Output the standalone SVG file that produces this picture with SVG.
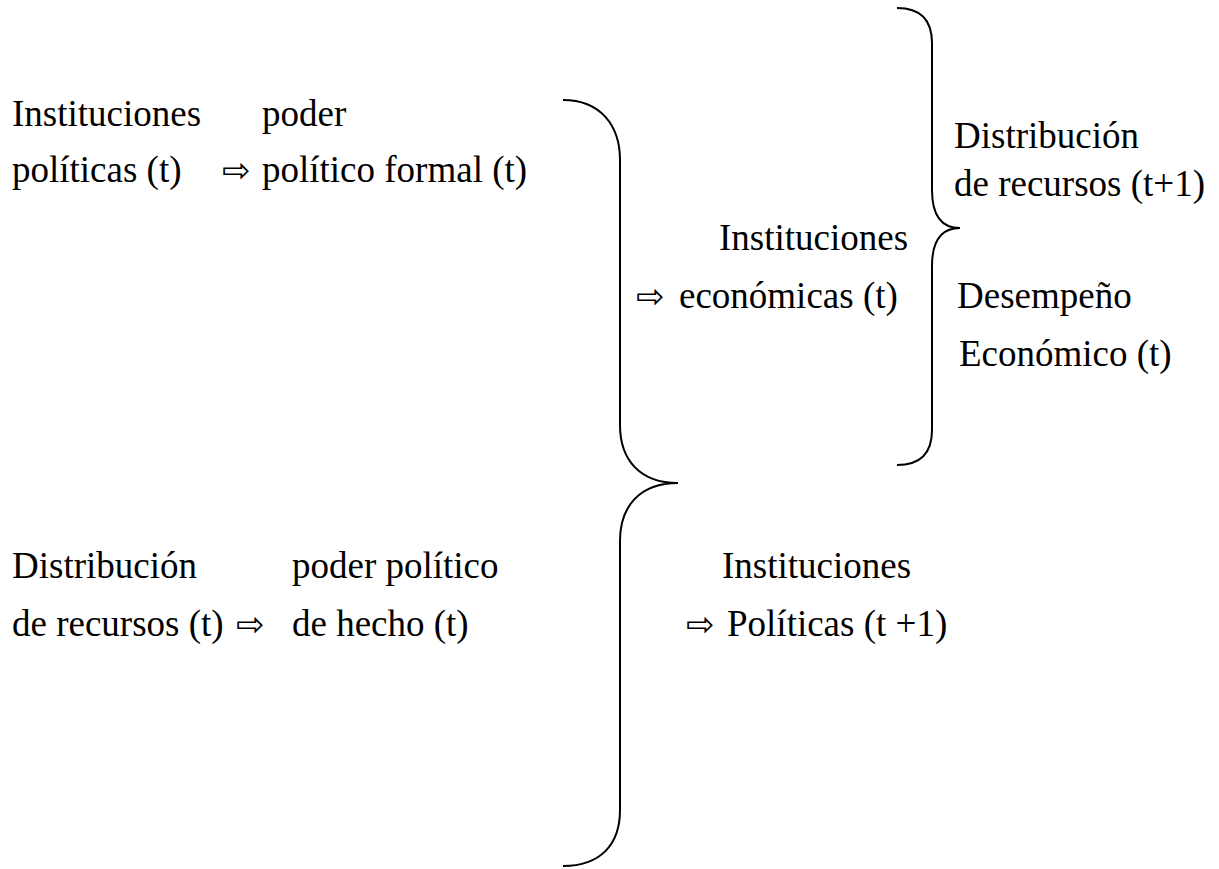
<svg xmlns="http://www.w3.org/2000/svg" width="1219" height="869" viewBox="0 0 1219 869">
<style>
text{font-family:"Liberation Serif","Times New Roman",serif;font-size:37px;fill:#000}
.ar{font-family:"DejaVu Sans",sans-serif;font-size:34px}
.br{fill:none;stroke:#000;stroke-width:2}
</style>
<rect width="1219" height="869" fill="#fff"/>
<g id="connectors">
<path class="br" d="M563,100 C600,100 620,125 620,160 L620,425 C620,460 640,483 678,483 C640,483 620,506 620,541 L620,810 C620,845 600,866 563,866"/>
<path class="br" d="M897,8 C920,8 932,20 932,43 L932,190 C932,213 940,228 960,228 C940,228 932,243 932,266 L932,430 C932,453 920,465 897,465"/>
</g>
<g id="n1"><text x="12" y="126">Instituciones</text><text x="12" y="182">políticas (t)</text></g>
<g id="n2"><text x="262" y="126">poder</text><text x="222" y="182"><tspan class="ar">⇨</tspan><tspan x="262">político formal (t)</tspan></text></g>
<g id="n3"><text x="12" y="578">Distribución</text><text x="12" y="636">de recursos (t)</text></g>
<g id="n4"><text x="292" y="578">poder político</text><text x="236" y="636"><tspan class="ar">⇨</tspan><tspan x="292">de hecho (t)</tspan></text></g>
<g id="n5"><text x="719" y="250">Instituciones</text><text x="636" y="308"><tspan class="ar">⇨</tspan><tspan x="679">económicas (t)</tspan></text></g>
<g id="n6"><text x="722" y="578">Instituciones</text><text x="686" y="636"><tspan class="ar">⇨</tspan><tspan x="727">Políticas (t +1)</tspan></text></g>
<g id="n7"><text x="954" y="148">Distribución</text><text x="954" y="196">de recursos (t+1)</text></g>
<g id="n8"><text x="957" y="308">Desempeño</text><text x="959" y="366">Económico (t)</text></g>
</svg>
